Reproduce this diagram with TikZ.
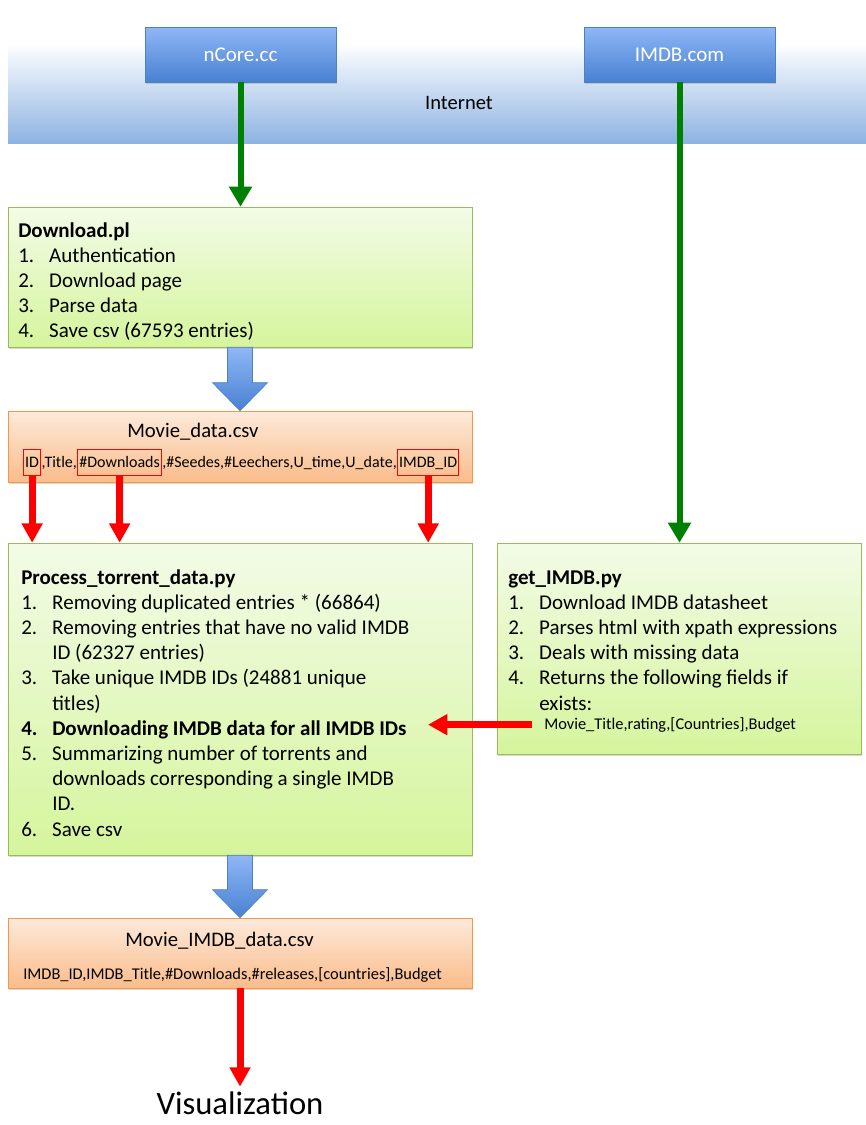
\documentclass[tikz,border=0pt]{standalone}
\usepackage{fontspec}
\setmainfont{Carlito}
\usetikzlibrary{positioning,fit,shadows,arrows.meta}
\definecolor{greentop}{RGB}{243,251,231}
\definecolor{greenbot}{RGB}{213,245,156}
\definecolor{greenline}{RGB}{155,187,89}
\definecolor{orangetop}{RGB}{253,234,219}
\definecolor{orangebot}{RGB}{250,188,138}
\definecolor{orangeline}{RGB}{247,150,70}
\definecolor{headtop}{RGB}{143,183,246}
\definecolor{headbot}{RGB}{72,129,210}
\definecolor{headline}{RGB}{79,129,189}
\definecolor{netblue}{RGB}{141,179,226}
\definecolor{arrowgreen}{RGB}{0,128,0}
\newcommand\itm[2]{\makebox[23.25pt][l]{#1}#2}

\begin{document}
\begin{tikzpicture}[x=0.75pt,y=-0.75pt,
    shade/.style={drop shadow={shadow xshift=1pt,shadow yshift=-1.5pt,opacity=0.3}},
    greenbox/.style={draw=greenline,top color=greentop,bottom color=greenbot,inner sep=0pt,shade},
    orangebox/.style={draw=orangeline,top color=orangetop,bottom color=orangebot,inner sep=0pt,shade},
    header/.style={draw=headline,top color=headtop,bottom color=headbot,text=white,
      minimum width=143.25pt,minimum height=41.25pt,font=\fontsize{15.75}{18}\selectfont,shade},
    listtext/.style={anchor=base west,inner sep=0pt,font=\fontsize{15.75}{18.9}\selectfont},
    title/.style={anchor=base west,inner sep=0pt,font=\fontsize{15.5}{18}\selectfont},
    field/.style={inner xsep=0pt,inner ysep=5pt,text height=8pt,text depth=1.5pt,font=\fontsize{12.3}{14}\selectfont},
    csvfield/.style={field,font=\fontsize{12}{14}\selectfont},
    markbox/.style={csvfield,draw=red,line width=0.9pt,inner xsep=1.2pt},
    greenarrow/.style={draw=arrowgreen,line width=4.5pt,-{Triangle[width=16.5pt,length=15pt]}},
    redarrow/.style={draw=red,line width=5.25pt,-{Triangle[width=15pt,length=14.5pt]}},
    blockarrow/.style={draw=headline,line width=0.5pt,top color=headtop,bottom color=headbot}]
  \useasboundingbox (0,0) rectangle (866,1125);

  % internet band and the two sites
  \node[fit={(8,43) (866,143)},inner sep=0pt,top color=white,bottom color=netblue] (net) {};
  \node[font=\fontsize{15.4}{18}\selectfont] (nettxt) at (459,103) {Internet};
  \node[header] (ncore) at (240.5,54.5) {nCore.cc};
  \node[header] (imdb) at (679.5,54.5) {IMDB.com};

  % boxes
  \node[greenbox,fit={(8,207) (472,347)}] (dl) {};
  \node[orangebox,fit={(8,411) (472,482)}] (md) {};
  \node[greenbox,fit={(8,543) (472,855)}] (proc) {};
  \node[greenbox,fit={(497,543) (861,754)}] (get) {};
  \node[orangebox,fit={(8,918) (472,988)}] (out) {};

  \node[listtext] (dltext) at (18,237) {\parbox[t]{330pt}{\textbf{Download.pl}\\
    \itm{1.}{Authentication}\\
    \itm{2.}{Download page}\\
    \itm{3.}{Parse data}\\
    \itm{4.}{Save csv (67593 entries)}}};

  \node[title] (mdtitle) at (127,437) {Movie\_data.csv};
  \node[markbox,anchor=base west] (fid) at (23,467) {ID};
  \node[csvfield,base right=0pt of fid] (ftitle) {,Title,};
  \node[markbox,base right=0pt of ftitle] (fdl) {\#Downloads};
  \node[csvfield,base right=0pt of fdl] (fmid) {,\#Seedes,\#Leechers,U\_time,U\_date,};
  \node[markbox,base right=0pt of fmid] (fimdb) {IMDB\_ID};

  \node[listtext] (proctext) at (21,584) {\parbox[t]{340pt}{\textbf{Process\_torrent\_data.py}\\
    \itm{1.}{Removing duplicated entries * (66864)}\\
    \itm{2.}{Removing entries that have no valid IMDB}\\
    \itm{}{ID (62327 entries)}\\
    \itm{3.}{Take unique IMDB IDs (24881 unique}\\
    \itm{}{titles)}\\
    \textbf{\itm{4.}{Downloading IMDB data for all IMDB IDs}}\\
    \itm{5.}{Summarizing number of torrents and}\\
    \itm{}{downloads corresponding a single IMDB}\\
    \itm{}{ID.}\\
    \itm{6.}{Save csv}}};

  \node[listtext] (gettext) at (508,584) {\parbox[t]{340pt}{\textbf{get\_IMDB.py}\\
    \itm{1.}{Download IMDB datasheet}\\
    \itm{2.}{Parses html with xpath expressions}\\
    \itm{3.}{Deals with missing data}\\
    \itm{4.}{Returns the following fields if}\\
    \itm{}{exists:}}};
  \node[field,anchor=base west,inner xsep=9pt] (ret) at (532,729) {Movie\_Title,rating,[Countries],Budget};
  \coordinate (dlin) at (428,727);

  \node[title] (outtitle) at (125,946) {Movie\_IMDB\_data.csv};
  \node[field,anchor=base west] (outf) at (23,979) {IMDB\_ID,IMDB\_Title,\#Downloads,\#releases,[countries],Budget};

  \node[font=\fontsize{24.5}{28}\selectfont,anchor=base] (vis) at (240,1114) {Visualization};

  % connectors
  \draw[greenarrow] (ncore.south) -- (ncore.south |- dl.north);
  \draw[greenarrow] (imdb.south) -- (imdb.south |- get.north);
  \foreach \a/\b in {dl/md,proc/out}
    \draw[blockarrow] ([xshift=-9.4pt]\a.south) -- ([xshift=9.4pt]\a.south)
      -- ([xshift=9.4pt,yshift=21pt]\b.north) -- ([xshift=20.6pt,yshift=21pt]\b.north)
      -- (\b.north) -- ([xshift=-20.6pt,yshift=21pt]\b.north)
      -- ([xshift=-9.4pt,yshift=21pt]\b.north) -- cycle;
  \foreach \f in {fid,fdl,fimdb}
    \draw[redarrow] (\f.south) -- (\f.south |- proc.north);
  \draw[redarrow] (ret.west) -- (ret.west -| dlin);
  \draw[redarrow] (out.south) -- (vis.north);
\end{tikzpicture}
\end{document}
